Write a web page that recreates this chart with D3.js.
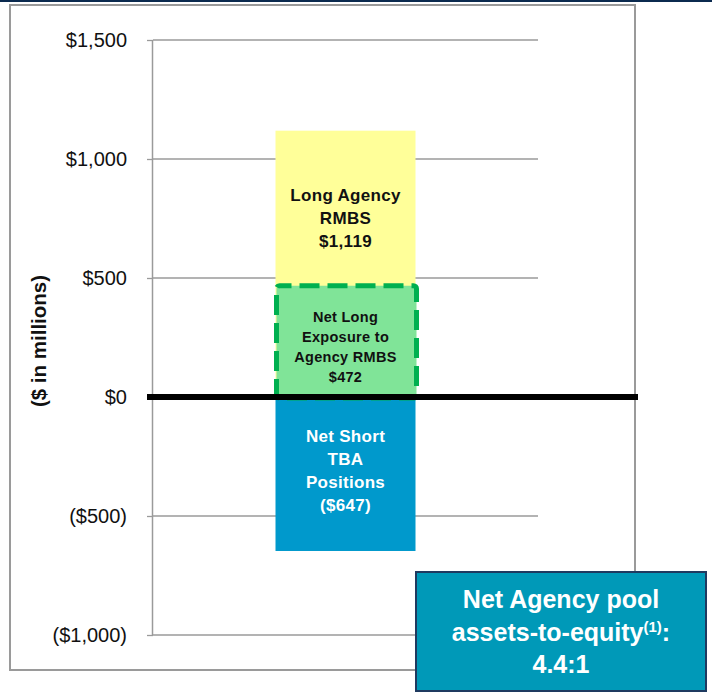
<!DOCTYPE html>
<html><head><meta charset="utf-8">
<script src="https://cdn.jsdelivr.net/npm/d3@7"></script>
<style>body{margin:0;background:#fff}svg{display:block}</style>
</head><body>
<svg id="c" width="712" height="693"></svg>
<script>
const tickValues = [1500, 1000, 500, 0, -500, -1000];
const tickLabels = ["$1,500", "$1,000", "$500", "$0", "($500)", "($1,000)"];
const categories = ["Long Agency RMBS", "Net Short TBA Positions", "Net Long Exposure to Agency RMBS"];
const values = [1119, -647, 472];
const barLabels = [["Long Agency", "RMBS", "$1,119"], ["Net Short", "TBA", "Positions", "($647)"], ["Net Long", "Exposure to", "Agency RMBS", "$472"]];
const axisTitle = "($ in millions)";
const noteLines = ["Net Agency pool", "assets-to-equity", "4.4:1"];

const svg = d3.select("#c");
const font = "'Liberation Sans',Arial,sans-serif";

// top navy rule
svg.append("rect").attr("x", 0).attr("y", 0).attr("width", 712).attr("height", 2).attr("fill", "#0b2a4f");
// chart frame
svg.append("rect").attr("x", 10).attr("y", 5).attr("width", 625).attr("height", 665)
  .attr("fill", "none").attr("stroke", "#9a9a9a").attr("stroke-width", 2);

const y = d3.scaleLinear().domain([-1000, 1500]).range([635, 40]);
const x0 = 153, x1 = 538;
const x = d3.scaleBand().domain(["col"]).range([x0, x1]).paddingInner(0).paddingOuter(0.875);

// gridlines
const grid = svg.append("g");
grid.selectAll("line").data(tickValues.filter(v => v !== 0)).join("line")
  .attr("x1", x0).attr("x2", x1).attr("y1", d => y(d)).attr("y2", d => y(d))
  .attr("stroke", "#9a9a9a").attr("stroke-width", 1.3);

// axis
const axis = d3.axisLeft(y).tickValues(tickValues).tickSize(6).tickPadding(20)
  .tickFormat((d, i) => tickLabels[i]);
const ag = svg.append("g").attr("transform", `translate(${x0},0)`).call(axis);
ag.select(".domain").attr("stroke", "#9a9a9a").attr("stroke-width", 1.5).attr("d", `M-0.5,${y(1500)}V${y(-1000)}`);
ag.selectAll(".tick line").attr("stroke", "#9a9a9a").attr("stroke-width", 1.3);
ag.selectAll(".tick text").attr("font-family", font).attr("font-size", 20).attr("fill", "#111");

// axis title
svg.append("text").attr("transform", `translate(46,341) rotate(-90)`).attr("text-anchor", "middle")
  .attr("font-family", font).attr("font-weight", "bold").attr("font-size", 20.5)
  .attr("fill", "#111").text(axisTitle);

const bx = x("col"), bw = x.bandwidth();
// bars
svg.append("rect").attr("x", bx).attr("width", bw).attr("y", y(values[0])).attr("height", y(0) - y(values[0])).attr("fill", "#ffff99");
svg.append("rect").attr("x", bx).attr("width", bw).attr("y", y(0)).attr("height", y(values[1]) - y(0)).attr("fill", "#0099cc");
// net long dashed box
svg.append("rect").attr("x", bx + 1).attr("width", bw).attr("y", y(values[2]) + 1).attr("height", y(0) - y(values[2]))
  .attr("fill", "#80e498").attr("stroke", "#00b050").attr("stroke-width", 5).attr("stroke-dasharray", "20,8").attr("stroke-dashoffset", 8).attr("rx", 3);

// zero line
svg.append("line").attr("x1", x0 - 6).attr("x2", 638).attr("y1", y(0)).attr("y2", y(0))
  .attr("stroke", "#000").attr("stroke-width", 6);

// labels
const cx = bx + bw / 2;
function lines(arr, y0, dy, size, color) {
  svg.append("g").selectAll("text").data(arr).join("text")
    .attr("x", cx).attr("y", (d, i) => y0 + i * dy).attr("text-anchor", "middle")
    .attr("font-family", font).attr("font-weight", "bold").attr("font-size", size)
    .attr("letter-spacing", 0.3)
    .attr("fill", color).text(d => d);
}
lines(barLabels[0], 201, 23, 17, "#111");
lines(barLabels[2], 322, 20, 14.5, "#111");
lines(barLabels[1], 442, 23, 17, "#fff");

// note box
svg.append("rect").attr("x", 416).attr("y", 572).attr("width", 290).attr("height", 119)
  .attr("fill", "#0099b8").attr("stroke", "#1f3a60").attr("stroke-width", 2);
const nt = svg.append("g").attr("font-family", font).attr("font-weight", "bold").attr("font-size", 25).attr("fill", "#fff").attr("text-anchor", "middle");
nt.append("text").attr("x", 561).attr("y", 608).text(noteLines[0]);
const t2 = nt.append("text").attr("x", 561).attr("y", 641);
t2.append("tspan").text(noteLines[1]);
t2.append("tspan").attr("font-size", 15).attr("dy", -9).text("(1)");
t2.append("tspan").attr("dy", 9).text(":");
nt.append("text").attr("x", 561).attr("y", 673).text(noteLines[2]);
</script>
</body></html>
